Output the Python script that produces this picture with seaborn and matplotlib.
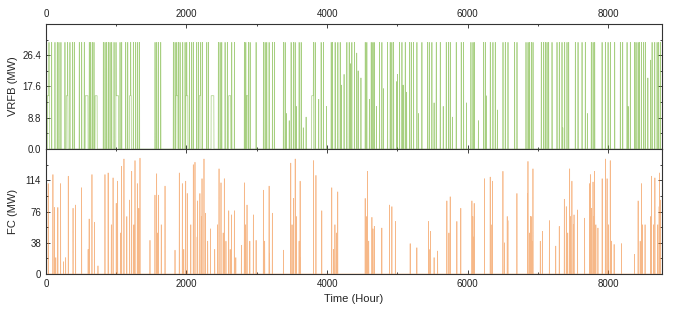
import numpy as np
import pandas as pd
import seaborn as sns
import matplotlib.pyplot as plt
from matplotlib.ticker import MultipleLocator

# hours of the year
n_hours = 8760

# VRFB: hours where the battery runs at full power (MW)
vrfb_full_hours = [9, 43, 81, 128, 161, 185, 213, 270, 308, 341, 379, 403, 474, 508, 545,
                   616, 636, 659, 683, 816, 840, 863, 887, 911, 935, 968, 996, 1053, 1077,
                   1134, 1163, 1205, 1243, 1276, 1305, 1330, 1551, 1575, 1598, 1632, 1812,
                   1836, 1860, 1883, 1907, 1945, 1978, 2002, 2040, 2073, 2096, 2144, 2168,
                   2201, 2225, 2287, 2310, 2452, 2476, 2500, 2547, 2580, 2642, 2680, 2822,
                   2842, 2879, 2903, 2988, 3093, 3116, 3140, 3173, 3221, 3249, 3377, 3401,
                   3486, 3519, 3543, 3600, 3629, 3804, 3828, 3913, 3946, 4056, 4075, 4112,
                   4151, 4184, 4279, 4312, 4350, 4387, 4540, 4563, 4625, 4649, 4667, 4743,
                   4777, 4857, 4895, 4919, 4943, 5028, 5062, 5109, 5170, 5194, 5227, 5275,
                   5346, 5426, 5450, 5488, 5550, 5607, 5692, 5725, 5749, 5834, 5905, 5938,
                   6043, 6072, 6090, 6223, 6247, 6318, 6356, 6389, 6499, 6532, 6570, 6664,
                   6698, 6826, 6855, 6873, 6902, 6926, 7044, 7077, 7101, 7125, 7148, 7196,
                   7267, 7300, 7338, 7376, 7409, 7433, 7528, 7566, 7623, 7670, 7755, 7780,
                   7803, 7908, 7955, 7993, 8026, 8087, 8168, 8201, 8263, 8310, 8372, 8391,
                   8420, 8438, 8467, 8500, 8524, 8619, 8657, 8690, 8713, 8737]
vrfb_full_power = 30.0

# VRFB: stretches held at half power (start hour, length)
vrfb_half_start = [20, 290, 560, 700, 1000, 1190, 1850, 1990, 2180, 2350, 2600, 2850, 3780]
vrfb_half_len = [30, 25, 40, 30, 35, 25, 30, 30, 25, 40, 30, 25, 30]
vrfb_half_power = 15.0

# VRFB: single partial-power hours (mostly spring/summer)
vrfb_part_hours = [3380, 3420, 3460, 3560, 3660, 3700, 3880, 3990, 4200, 4240, 4330, 4420,
                   4440, 4480, 4600, 4700, 4800, 4990, 5000, 5080, 5130, 5300, 5520, 5650,
                   5780, 5980, 6150, 6260, 6420, 7200, 7350, 7700, 8280, 8560, 8600]
vrfb_part_power = [13, 10, 8, 12, 6, 9, 14, 12, 18, 21, 24, 27,
                   22, 20, 14, 12, 17, 19, 21, 18, 16, 10, 13, 12,
                   9, 13, 8, 15, 11, 9, 6, 10, 12, 20, 25]

# FC: hourly output peaks (hour, MW)
fc_hours = [33, 100, 120, 170, 209, 318, 386, 422, 508, 615, 655, 690, 840, 885, 955,
            1000, 1020, 1077, 1110, 1220, 1267, 1300, 1338, 1480, 1551, 1575, 1600, 1694,
            1836, 1897, 1940, 1988, 2010, 2096, 2120, 2158, 2190, 2220, 2248, 2270, 2340,
            2462, 2490, 2537, 2600, 2640, 2680, 2822, 2860, 2900, 2950, 2989, 3093, 3174,
            3220, 3378, 3482, 3520, 3545, 3615, 3805, 3840, 3923, 4065, 4110, 4150, 4540,
            4573, 4636, 4670, 4777, 4886, 4920, 4970, 5180, 5275, 5441, 5470, 5520, 5570,
            5702, 5749, 5844, 5900, 6058, 6090, 6237, 6318, 6350, 6499, 6520, 6560, 6570,
            6698, 6850, 6855, 6900, 6926, 7030, 7060, 7160, 7250, 7300, 7372, 7400, 7448,
            7480, 7510, 7560, 7660, 7730, 7742, 7780, 7803, 7850, 7910, 7956, 7980, 8025,
            8080, 8185, 8370, 8420, 8422, 8470, 8520, 8612, 8660, 8720, 8725]
fc_power = [110, 121, 81, 81, 110, 119, 80, 84, 105, 67, 121, 63, 121, 123, 117,
            86, 113, 131, 140, 125, 138, 110, 141, 41, 96, 122, 96, 107,
            29, 123, 110, 113, 98, 133, 136, 89, 98, 116, 140, 74, 55,
            128, 111, 116, 77, 72, 77, 111, 84, 40, 72, 41, 102, 107,
            74, 29, 135, 92, 140, 113, 138, 120, 77, 105, 60, 100, 92,
            125, 69, 58, 56, 84, 82, 64, 37, 32, 64, 52, 20, 28,
            89, 94, 64, 80, 89, 86, 116, 118, 113, 125, 38, 70, 65,
            98, 98, 137, 70, 128, 40, 52, 65, 34, 58, 91, 82, 128,
            113, 72, 78, 68, 110, 121, 112, 125, 56, 116, 140, 116, 138,
            36, 37, 24, 39, 89, 110, 60, 119, 117, 82, 123]

# FC: smaller outputs inside the busy periods (hour, MW)
fc_low_hours = [140, 250, 280, 600, 740, 890, 930, 1060, 1150, 1190, 1250, 1320, 1590,
                1640, 1900, 1960, 2060, 2150, 2210, 2300, 2400, 2440, 2520, 2560, 2620,
                2700, 2780, 2840, 3110, 3180, 3500, 3560, 3600, 3620, 4090, 4130, 4555,
                4590, 4650, 5460, 5730, 6070, 6080, 6330, 6880, 6890, 6910, 7420, 7460,
                7500, 7760, 7790, 7820, 7960, 8000, 8040, 8450, 8480, 8600, 8640, 8700, 8740]
fc_low_power = [20, 15, 20, 30, 10, 40, 60, 50, 70, 90, 60, 80, 50,
                60, 40, 30, 60, 45, 70, 40, 30, 60, 50, 40, 30,
                20, 35, 60, 40, 25, 60, 70, 40, 20, 30, 50, 70,
                40, 55, 30, 50, 70, 45, 60, 50, 70, 40, 50, 70,
                60, 80, 70, 60, 90, 60, 40, 40, 60, 70, 60, 60, 90]

# build hourly series
vrfb = np.zeros(n_hours)
for s, l in zip(vrfb_half_start, vrfb_half_len):
    vrfb[s:s + l] = vrfb_half_power
for h, p in zip(vrfb_part_hours, vrfb_part_power):
    vrfb[h:h + 2] = p
for h in vrfb_full_hours:
    vrfb[h:h + 4] = vrfb_full_power

fc = np.zeros(n_hours)
for h, p in zip(fc_low_hours, fc_low_power):
    fc[h:h + 3] = p
for h, p in zip(fc_hours, fc_power):
    fc[h:h + 2] = p

df = pd.DataFrame({'hour': np.arange(n_hours), 'vrfb': vrfb, 'fc': fc})

sns.set_style('ticks')
plt.rcParams['font.family'] = ['Liberation Sans', 'DejaVu Sans']

fig = plt.figure(figsize=(6.74, 3.10), dpi=100)
ax1 = fig.add_axes([0.068, 0.519, 0.914, 0.404])
ax2 = fig.add_axes([0.068, 0.116, 0.914, 0.403])

sns.lineplot(data=df, x='hour', y='vrfb', ax=ax1, color='#6CB02C', lw=0.5, alpha=0.6)
sns.lineplot(data=df, x='hour', y='fc', ax=ax2, color='#F07E26', lw=0.5, alpha=0.55)

ax1.set_ylim(0, 35.2)
ax1.set_yticks([0, 8.8, 17.6, 26.4])
ax1.set_yticklabels(['0.0', '8.8', '17.6', '26.4'])
ax2.set_ylim(0, 152)
ax2.set_yticks([0, 38, 76, 114])

for ax in (ax1, ax2):
    ax.set_xlim(0, n_hours)
    ax.xaxis.set_major_locator(MultipleLocator(2000))
    ax.xaxis.set_minor_locator(MultipleLocator(1000))
    ax.yaxis.set_minor_locator(MultipleLocator(ax.get_yticks()[1] / 2))
    ax.tick_params(which='both', direction='in', top=True, right=True,
                   labelsize=7, colors='#222222', width=0.6)
    ax.tick_params(which='major', length=3)
    ax.tick_params(which='minor', length=1.5)
    for sp in ax.spines.values():
        sp.set_linewidth(0.8)
        sp.set_color('#333333')

ax1.tick_params(axis='x', labeltop=True, labelbottom=False)
ax1.set_xlabel('')
ax1.set_ylabel('VRFB (MW)', fontsize=8)
ax2.set_ylabel('FC (MW)', fontsize=8)
ax2.set_xlabel('Time (Hour)', fontsize=8)
ax1.yaxis.set_label_coords(-0.045, 0.5)
ax2.yaxis.set_label_coords(-0.045, 0.5)

fig.savefig('out.png', dpi=100)
